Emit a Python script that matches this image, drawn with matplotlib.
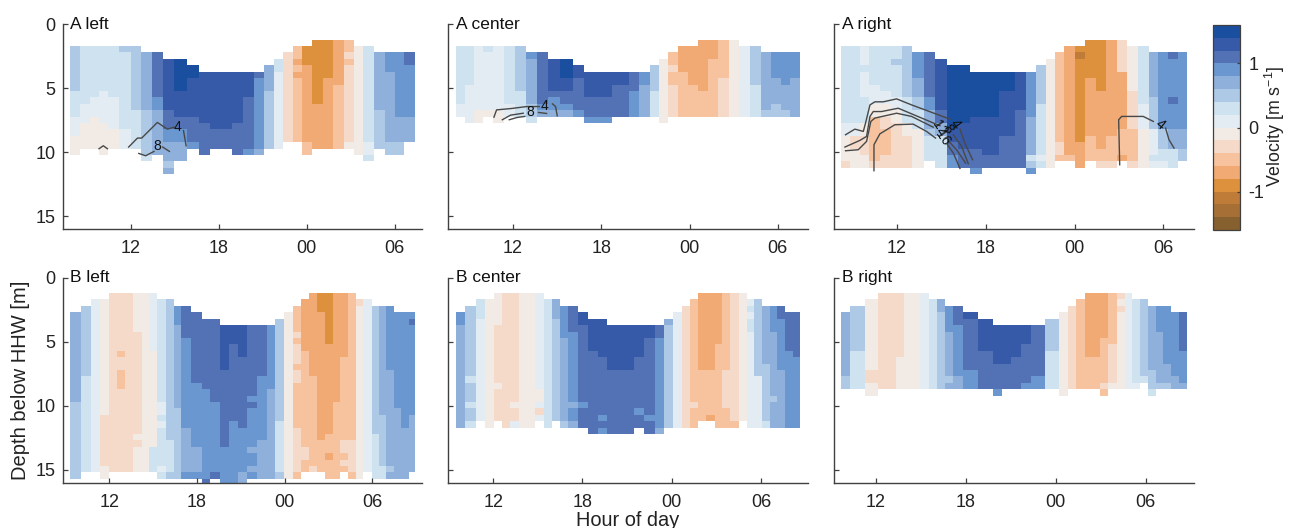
import numpy as np
import matplotlib
matplotlib.use("Agg")
import matplotlib.pyplot as plt
from matplotlib.colors import ListedColormap, BoundaryNorm
from matplotlib.cm import ScalarMappable

plt.rcParams['font.family'] = ['Liberation Sans', 'DejaVu Sans']
plt.rcParams['axes.unicode_minus'] = False
plt.rcParams['mathtext.fontset'] = 'custom'
plt.rcParams['mathtext.rm'] = 'Liberation Sans'
plt.rcParams['mathtext.default'] = 'regular'

# Velocity classes
BAND_COLORS = ["#86602f", "#a66f35", "#bf7b38", "#de913d", "#f1aa73", "#f6c39e", "#f5dac9", "#f2ebe5",
               "#e3ecf3", "#cfe2f0", "#adc9e5", "#8fb0da", "#6a97cf", "#5272b5", "#375aa8", "#1a4fa0"]
BAND_EDGES = [-1.6, -1.4, -1.2, -1.0, -0.8, -0.6, -0.4, -0.2, 0.0, 0.2, 0.4, 0.6, 0.8, 1.0, 1.2, 1.4, 1.6]
LEVEL_VALUES = {'.': np.nan, '1': 0.1, '2': 0.3, '3': 0.5, '4': 0.7, '5': 0.9, '6': 1.1, '7': 1.3, '8': 1.5,
                'a': -0.1, 'b': -0.3, 'c': -0.5, 'd': -0.7, 'e': -0.9, 'f': -1.1}

TOP_DEPTH = 1.2
BIN_SIZE = 0.5
N_BINS = 30

# Hour edges of each time bin
A_LEFT_T = [7.86, 8.54, 9.22, 9.84, 10.48, 11.23, 12.02, 12.68, 13.43, 14.18, 14.96, 15.85, 16.66, 17.42, 18.21,
            18.89, 19.65, 20.40, 21.10, 21.78, 22.42, 23.04, 23.67, 24.38, 25.11, 25.81, 26.52, 27.22, 27.84,
            28.61, 29.38, 30.00, 30.66, 31.41]
A_CENTER_T = [8.11, 8.74, 9.35, 9.99, 10.67, 11.41, 12.16, 12.86, 13.63, 14.40, 15.19, 16.05, 16.80, 17.61, 18.18,
              18.74, 19.31, 19.87, 20.57, 21.30, 21.93, 22.57, 23.20, 23.88, 24.58, 25.28, 25.96, 26.68, 27.36,
              28.09, 28.83, 29.53, 30.19, 30.85, 31.52]
A_RIGHT_T = [8.22, 8.85, 9.50, 10.11, 10.85, 11.57, 12.32, 13.01, 13.80, 14.57, 15.38, 16.14, 16.91, 17.72, 18.89,
             19.45, 20.00, 20.72, 21.39, 22.07, 22.68, 23.31, 24.00, 24.70, 25.42, 26.12, 26.84, 27.54, 28.26,
             29.00, 29.66, 30.33, 31.01, 31.57]
B_LEFT_T = [9.31, 10.04, 10.72, 11.36, 11.98, 12.55, 13.07, 13.64, 14.21, 14.72, 15.29, 15.88, 16.43, 16.93, 17.57,
            18.32, 18.89, 19.57, 20.21, 20.81, 21.40, 22.08, 22.77, 23.34, 23.96, 24.55, 25.12, 25.69, 26.24, 26.76,
            27.29, 27.79, 28.36, 28.88, 29.39, 29.96, 30.46, 30.94, 31.46, 31.96, 32.47, 32.92]
B_CENTER_T = [9.47, 10.12, 10.81, 11.44, 12.04, 12.60, 13.16, 13.72, 14.28, 14.82, 15.40, 15.98, 16.48, 17.01, 17.69,
              18.40, 19.01, 19.68, 20.28, 20.91, 21.49, 22.16, 22.86, 23.46, 24.09, 24.69, 25.23, 25.79, 26.33, 26.89,
              27.40, 27.94, 28.50, 29.04, 29.55, 30.07, 30.58, 31.07, 31.61, 32.15, 32.64]
B_RIGHT_T = [9.69, 10.31, 11.29, 12.18, 12.78, 13.33, 13.89, 14.44, 14.98, 15.56, 16.11, 16.62, 17.16, 17.84, 18.84,
             19.84, 20.44, 21.02, 21.69, 22.36, 23.29, 24.22, 24.80, 25.36, 25.96, 26.98, 27.51, 28.07, 28.60, 29.11,
             29.64, 30.16, 30.67, 31.18, 31.69, 32.20, 32.73]

# Velocity class of each time bin from the surface down, as runs: class letter + number of depth bins
A_LEFT_V = [".1 37 24 13 a3", ".1 29 13 a4", ".1 28 13 a5", ".1 27 15 a5", ".1 28 15 a3", ".1 31 212 13", ".1 310 26",
            ".2 49 37 21", ".2 67 52 47", ".3 78 63 52 43 31 41", ".3 85 74 62 52 43", ".4 82 76 64 51", ".5 78 65",
            ".5 79 63", ".5 79 63", ".5 78 65", ".5 74 68 51", ".5 61 511 41", ".4 44 39", ".3 22 112", ".2 b14",
            ".1 c2 d1 c1 d1 c10", ".1 e3 d12 c2", "e10 d7", "e6 d11", "d7 c10", "c2 b1 c1 b12 a1", ".1 a17",
            ".1 215 12 21", ".2 49 36", ".2 53 411 32", ".2 510 44 32", ".2 62 58 44"]
A_CENTER_V = [".1 29 12", ".1 26 16", ".1 110 a2", ".1 21 19 a1", ".1 110 a2", ".1 29 12", ".1 37 24", ".2 51 47 32 21",
              ".2 68 51 41", ".3 75 61 52 41", ".3 83 72 62 51 41", ".4 72 65 51", ".5 74 63 51", ".5 74 63 51",
              ".5 74 63 51", ".5 72 65", ".5 72 65", ".5 63 54", ".5 52 45", ".4 34 24", ".3 a10", ".2 c2 b1 c2 b5",
              ".1 d4 c7", ".1 d6 c5", "d8 c4", "d3 c9", "c6 b6", "a12", ".1 111", ".1 36 25", ".2 49 31", ".2 54 44 32",
              ".2 55 44 31", ".2 54 46"]
A_RIGHT_V = [".1 212 12 a4 b1", ".1 212 12 b2 a3", ".1 13 21 14 24 a2 b3 a2", ".1 26 13 a2 c7 b1", ".1 27 12 a2 b2 c4 b2",
             ".1 22 31 25 12 a2 b7", ".1 38 24 a2 b5", ".2 54 43 32 23 a6", ".2 67 52 43 31 24", ".3 78 62 42 25",
             ".4 810 72 62 52", ".4 89 74 63", ".5 87 75 63 51", ".5 87 76 62", ".5 83 77 65", ".5 83 77 65",
             ".5 76 69", ".5 57 46 21 31 51", ".4 36 28 11 21", ".3 a17", ".2 c14 b2 c1", ".1 d17 c1", ".1 e1 f1 e13 d4",
             "e6 d9 c4", "e8 d9 c2 b1", "d15 c4 b1", "b5 d9 c4 d1", ".1 a7 b6 c5 b1", ".1 29 14 a6", ".2 47 35 14 21 11",
             ".2 512 33 22 11", ".2 61 56 61 54 43 23", ".2 512 43 32"]
B_LEFT_V = [".3 414 312", ".2 311 215", ".1 127", ".1 a18 b8 a2", "b28", "b9 c1 b2 c3 b13", "b28", "a6 b16 a1 b1 a4", "a28",
            "19 a15 24", ".1 216 12 21 11 26 11 21", ".1 322 25 31", ".2 53 413 311", ".2 65 514 47 51", ".3 611 510 44 51",
            ".4 611 514 61", ".4 613 511 61", ".5 77 612 56", ".5 73 612 510", ".5 75 611 57 42",
            ".5 611 51 61 56 41 52 41 51", ".5 68 510 46", ".5 510 414", ".4 316 28 31", ".3 a26",
            ".2 c4 b1 c1 b3 c1 b2 c7 b7 c1", ".1 d8 c15 b2 c2", "d13 c14 b1", "e3 d20 c5", "e8 d14 c3 d1 c3", "d17 c12",
            "d10 c13 b2 c1 b1 c1", "c23 b5 c1", ".1 b1 a27", ".1 127", ".2 320 27", ".2 417 38 22", ".2 510 415 31 41",
            ".3 515 411", ".3 518 48", ".3 51 61 514 49"]
B_CENTER_V = [".3 52 416", ".2 311 21 33 21 32 21", ".1 23 116", ".1 a20", "a5 b9 a1 b5", "b21", "b17 a1 b2 11", "a21", "a21",
              "115 a2 11 b1 11", ".1 220", ".1 43 316", ".2 55 413 31", ".2 64 511 41 52 41", ".3 72 612 51 63", ".4 75 613",
              ".4 76 69 51 61 51", ".5 77 610", ".5 77 610", ".5 77 610", ".5 75 68 51 62", ".5 72 612 51 62", ".5 62 514 41",
              ".4 41 316", ".3 118", ".2 b19", ".1 c16 b1 c3", "d12 c8", "d12 c7 d1", "d8 c13", "c12 b6 c3", "b20 c1", "a20",
              ".1 11 21 11 22 115", ".1 312 18", ".2 49 39 21", ".2 54 410 31 44", ".2 62 58 49", ".3 66 512", ".3 67 511"]
B_RIGHT_V = [".3 410 32", ".2 37 26", ".1 a11 b2 a2", "b15", "b15", "b10 a5", "a15", "a15", "115", ".1 214", ".1 42 312",
             ".2 54 47 31 41", ".2 63 58 42", ".3 71 68 53", ".4 75 66", ".5 76 64 51", ".5 76 64", ".5 75 65", ".5 73 66 51",
             ".5 68 52", ".4 35 26", ".3 a13", ".2 b13", ".1 c14", "d10 c5", "d7 c7 b1 c1", "c8 b6 a1", "b1 a1 b1 a12", "115",
             ".1 213 11", ".1 312 21", ".2 410 33 21", ".2 54 48 31", ".2 59 43 31", ".3 510 42", ".3 66 55 41"]

# Contour segments: (hours, depths)
A_LEFT_LINES = [([11.86, 12.46, 12.75, 13.82, 14.50, 14.96], [9.58, 8.88, 8.88, 7.66, 8.18, 8.03]),
                ([15.6, 15.78], [8.29, 9.48]),
                ([12.55, 13.02, 13.59], [10.08, 10.26, 9.92]),
                ([14.18, 14.64], [9.58, 9.92]),
                ([9.84, 10.13, 10.41], [9.71, 9.48, 9.71])]
A_CENTER_LINES = [([10.71, 10.89, 11.91, 12.93, 13.79], [7.25, 6.68, 6.57, 6.42, 6.42]),
                  ([14.69, 14.90, 15.01], [6.21, 6.42, 7.14]),
                  ([11.28, 11.84, 12.70], [7.45, 7.09, 6.94]),
                  ([13.74, 14.29], [6.88, 6.96]),
                  ([11.75, 12.29, 12.81], [7.45, 7.27, 7.19])]
A_RIGHT_LINES = [([8.53, 9.16, 9.73, 9.88, 10.18, 10.51, 11.08, 11.98, 12.99, 15.58],
                  [8.62, 8.18, 8.36, 7.71, 6.29, 6.05, 6.05, 5.82, 6.29, 7.40]),
                 ([16.26, 16.59, 17.11], [8.18, 9.27, 10.57]),
                 ([8.49, 9.50, 9.95, 10.18, 10.40, 10.96, 12.09, 14.91],
                  [9.58, 9.06, 8.75, 7.19, 6.81, 6.81, 6.55, 7.92]),
                 ([15.81, 16.37, 16.82], [8.62, 9.53, 10.88]),
                 ([8.53, 9.39, 9.95, 10.24, 10.51, 11.98, 12.99, 14.45],
                  [9.87, 9.79, 9.14, 7.58, 7.32, 6.94, 7.19, 8.03]),
                 ([15.51, 16.03, 16.64], [9.14, 9.79, 10.83]),
                 ([10.45, 10.45, 10.85, 11.86, 13.10, 14.00, 14.61],
                  [11.43, 9.40, 8.55, 7.84, 7.79, 8.36, 8.88]),
                 ([15.42, 15.81, 16.26], [9.40, 10.05, 11.25]),
                 ([27.05, 26.98, 27.18, 28.64, 29.32], [10.96, 7.45, 7.19, 7.19, 7.58]),
                 ([30.15, 30.38, 30.72], [8.10, 9.01, 9.66])]

# Contour labels: (hour, depth, text, rotation)
A_LEFT_LABELS = [(15.16, 8.03, "4", 0), (13.82, 9.48, "8", 0)]
A_CENTER_LABELS = [(14.15, 6.39, "4", 0), (13.15, 6.88, "8", 0)]
A_RIGHT_LABELS = [(15.96, 7.77, "4", -55), (15.42, 8.18, "8", -55), (14.9, 8.10, "12", -55), (15.06, 8.88, "16", -55),
                  (29.77, 7.84, "4", -40)]

TIME_TICKS = [12, 18, 24, 30]
TIME_TICK_LABELS = ["12", "18", "00", "06"]
DEPTH_TICKS = [0, 5, 10, 15]

PANELS = [
    ("A left", A_LEFT_T, A_LEFT_V, A_LEFT_LINES, A_LEFT_LABELS, (7.36, 31.9), (62.7, 24.3)),
    ("A center", A_CENTER_T, A_CENTER_V, A_CENTER_LINES, A_CENTER_LABELS, (7.61, 32.05), (448.3, 24.3)),
    ("A right", A_RIGHT_T, A_RIGHT_V, A_RIGHT_LINES, A_RIGHT_LABELS, (7.77, 32.07), (834.3, 24.3)),
    ("B left", B_LEFT_T, B_LEFT_V, [], [], (8.81, 33.42), (62.7, 277.7)),
    ("B center", B_CENTER_T, B_CENTER_V, [], [], (8.98, 33.16), (448.3, 277.7)),
    ("B right", B_RIGHT_T, B_RIGHT_V, [], [], (9.24, 33.22), (834.3, 277.7)),
]

W, H = 1289, 528
AX_W, AX_H = 359.7, 205.0
INK = "#404040"

fig = plt.figure(figsize=(W / 100, H / 100), dpi=100)
cmap = ListedColormap(BAND_COLORS)
norm = BoundaryNorm(BAND_EDGES, cmap.N)


def expand(cols):
    grid = np.full((N_BINS, len(cols)), np.nan)
    for j, col in enumerate(cols):
        k = 0
        for tok in col.split():
            n = int(tok[1:])
            grid[k:k + n, j] = LEVEL_VALUES[tok[0]]
            k += n
    return grid


depth_edges = TOP_DEPTH + BIN_SIZE * np.arange(N_BINS + 1)

for i, (name, t, v, lines, labels, xlim, (px, py)) in enumerate(PANELS):
    ax = fig.add_axes([px / W, 1 - (py + AX_H) / H, AX_W / W, AX_H / H])
    ax.pcolormesh(t, depth_edges, np.ma.masked_invalid(expand(v)), cmap=cmap, norm=norm,
                  shading='flat', edgecolors='none', antialiased=False)
    for xs, ys in lines:
        ax.plot(xs, ys, color="#484848", lw=1.0)
    for xs, ys, s, rot in labels:
        ax.text(xs, ys, s, fontsize=10, color="#111111", ha='center', va='center', rotation=rot)
    ax.set_xlim(*xlim)
    ax.set_ylim(16, 0)
    ax.set_xticks(TIME_TICKS)
    ax.set_xticklabels(TIME_TICK_LABELS)
    ax.set_yticks(DEPTH_TICKS)
    ax.set_yticklabels(DEPTH_TICKS if i % 3 == 0 else [])
    ax.tick_params(direction='in', length=3.5, width=0.9, color=INK, labelcolor="#222222", labelsize=13)
    ax.tick_params(axis='x', pad=8)
    ax.tick_params(axis='y', pad=5)
    for s in ('top', 'right'):
        ax.spines[s].set_visible(False)
    for s in ('left', 'bottom'):
        ax.spines[s].set_color(INK)
        ax.spines[s].set_linewidth(1.0)
    ax.text(7.5 / AX_W, 1.0, name, transform=ax.transAxes, fontsize=12.5, color="#111111",
            ha='left', va='center', clip_on=False)

fig.text(628 / W, 1 - 520 / H, "Hour of day", fontsize=14.4, color="#222222", ha='center', va='center')
fig.text(21 / W, 1 - 380 / H, "Depth below HHW [m]", fontsize=14.5, color="#222222", ha='center', va='center',
         rotation=90)

cax = fig.add_axes([1213.3 / W, 1 - 230 / H, 27 / W, 205 / H])
cb = fig.colorbar(ScalarMappable(norm=norm, cmap=cmap), cax=cax, ticks=[-1, 0, 1], spacing='proportional',
                  drawedges=False)
cb.ax.set_yticklabels(["-1", "0", "1"])
cb.ax.tick_params(direction='in', length=2.5, width=0.9, color=INK, labelcolor="#222222", labelsize=13, pad=6)
cb.outline.set_edgecolor(INK)
cb.outline.set_linewidth(0.9)
cb.ax.minorticks_off()
fig.text(1287 / W, 1 - 126 / H, "Velocity [m s$^{-1}$]", fontsize=12.8, color="#222222", rotation=90,
         ha='right', va='center')

fig.savefig("out.png", dpi=100)
